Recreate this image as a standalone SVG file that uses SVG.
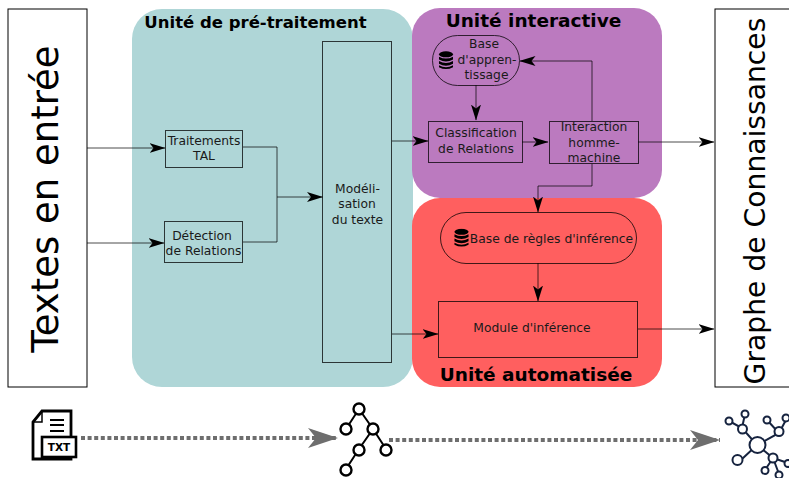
<svg xmlns="http://www.w3.org/2000/svg" width="789" height="478" viewBox="0 0 789 478">
<defs>
<style>
text{font-family:"DejaVu Sans",sans-serif;fill:#000}
.t{font-size:12.3px;text-anchor:middle;fill:#1a1a1a}
.h{font-size:18.500px;font-weight:bold;text-anchor:middle}
.b{fill:none;stroke:#000;stroke-width:1;stroke-opacity:.75}
.c{fill:none;stroke:#000;stroke-width:1;stroke-opacity:.7}
.d{fill:none;stroke:#6e6e6e;stroke-width:4;stroke-dasharray:4 2.6}
.i{fill:#fff;stroke:#000;stroke-width:2.4}
.n{fill:#fff;stroke:#16233f;stroke-width:2}
.l{fill:none;stroke:#16233f;stroke-width:2}
</style>
<marker id="a" viewBox="0 0 16 10" refX="15.500" refY="5" markerWidth="16" markerHeight="10" markerUnits="userSpaceOnUse" orient="auto"><path d="M0 0L16 5L0 10L4 5Z" fill="#000"/></marker>
<marker id="g" viewBox="0 0 30 20" refX="30" refY="10" markerWidth="30" markerHeight="20" markerUnits="userSpaceOnUse" orient="auto"><path d="M0 0L30 10L0 20L8 10Z" fill="#6e6e6e"/></marker>
<symbol id="db" viewBox="0 0 16 20" preserveAspectRatio="none"><g fill="#000"><ellipse cx="8" cy="3.500" rx="7.500" ry="3.200"/><path d="M.5 6Q8 10 15.500 6V9Q8 13 .5 9Z"/><path d="M.5 10.500Q8 14.500 15.500 10.500V13.500Q8 17.500 .5 13.500Z"/><path d="M.5 15Q8 19 15.500 15V17Q8 21 .5 17Z"/></g></symbol>
</defs>
<rect width="789" height="478" fill="#fff"/>
<g id="unite-pretraitement"><rect x="132" y="9" width="281" height="378" rx="30" fill="#afd6d7"/><text class="h" style="font-size:16.500px" x="255.500" y="28">Unité de pré-traitement</text></g>
<g id="unite-automatisee"><rect x="412" y="198" width="250" height="189" rx="28" fill="#ff5f5f"/><text class="h" x="536" y="381">Unité automatisée</text></g>
<g id="unite-interactive"><rect x="412" y="8" width="250" height="190" rx="28" fill="#bb7abf"/><text class="h" x="533.500" y="27">Unité interactive</text></g>
<g id="textes"><rect x="8" y="9" width="79" height="378" fill="#fff" stroke="#000"/><text transform="translate(58,199) rotate(-90)" font-size="37" text-anchor="middle">Textes en entrée</text></g>
<g id="graphe"><rect x="715" y="9" width="76" height="378" fill="#fff" stroke="#000"/><text transform="translate(765,201) rotate(-90)" font-size="28.200" text-anchor="middle">Graphe de Connaissances</text></g>
<g id="connectors">
<path class="c" d="M87 148H165" marker-end="url(#a)"/>
<path class="c" d="M87 243H164" marker-end="url(#a)"/>
<path class="c" d="M243 147H277V242H243M277 197H322.500" marker-end="url(#a)"/>
<path class="c" d="M392 141H428" marker-end="url(#a)"/>
<path class="c" d="M392 334H438" marker-end="url(#a)"/>
<path class="c" d="M476 85V120" marker-end="url(#a)"/>
<path class="c" d="M522 142H548" marker-end="url(#a)"/>
<path class="c" d="M592 121V61H520" marker-end="url(#a)"/>
<path class="c" d="M592 164V186H538V212" marker-end="url(#a)"/>
<path class="c" d="M538 263V301" marker-end="url(#a)"/>
<path class="c" d="M638 142H714" marker-end="url(#a)"/>
<path class="c" d="M638 329H714" marker-end="url(#a)"/>
<path class="d" d="M81 438H338" marker-end="url(#g)"/>
<path class="d" d="M389 440H720" marker-end="url(#g)"/>
</g>
<g id="traitements"><rect class="b" x="165.500" y="130.500" width="77" height="37"/><text class="t" x="204" y="145">Traitements</text><text class="t" x="204" y="160">TAL</text></g>
<g id="detection"><rect class="b" x="164.500" y="221.500" width="78" height="41"/><text class="t" x="202" y="240">Détection</text><text class="t" x="203.500" y="255">de Relations</text></g>
<g id="modelisation"><rect class="b" x="322.500" y="41.500" width="69" height="321"/><text class="t" x="357.500" y="193">Modéli-</text><text class="t" x="357" y="208">sation</text><text class="t" x="357.500" y="224">du texte</text></g>
<g id="base-apprentissage"><rect class="b" x="432.500" y="35.500" width="87" height="50" rx="25"/><use href="#db" x="438.500" y="51" width="15" height="19"/><text class="t" x="484" y="48">Base</text><text class="t" x="487" y="64">d'appren-</text><text class="t" x="486.500" y="79">tissage</text></g>
<g id="classification"><rect class="b" x="428.500" y="121.500" width="94" height="41"/><text class="t" x="476" y="137">Classification</text><text class="t" x="476" y="153">de Relations</text></g>
<g id="interaction"><rect class="b" x="549.500" y="121.500" width="89" height="42"/><text class="t" x="594" y="131">Interaction</text><text class="t" x="594" y="147">homme-</text><text class="t" x="594" y="162">machine</text></g>
<g id="base-regles"><rect class="b" x="440.500" y="212.500" width="196" height="51" rx="25.500"/><use href="#db" x="454" y="228.500" width="15" height="19"/><text class="t" x="551.500" y="243">Base de règles d'inférence</text></g>
<g id="module"><rect class="b" x="438.500" y="301.500" width="199" height="56"/><text class="t" x="532" y="332">Module d'inférence</text></g>
<g id="icone-txt" fill="none" stroke="#000">
<path d="M42 411H71V459H33V422Z" fill="#fff" stroke-width="2.800"/><path d="M33 422H42V411" stroke-width="1.500"/>
<path d="M50 420H64M50 425H64M50 431H64" stroke-width="2.200"/>
<rect x="42" y="437" width="34" height="20" fill="#fff" stroke-width="2.600"/>
<text x="59" y="451" font-size="10.500" font-weight="bold" text-anchor="middle" stroke="none">TXT</text>
</g>
<g id="icone-arbre">
<path class="l" style="stroke:#000" d="M359 409L346 429M359 409L373 429L359 449L346 469M373 429L386 449"/>
<circle class="i" cx="359" cy="409" r="5.500"/><circle class="i" cx="346" cy="429" r="5.500"/><circle class="i" cx="373" cy="429" r="5.500"/><circle class="i" cx="359" cy="450" r="5.500"/><circle class="i" cx="386" cy="450" r="5.500"/><circle class="i" cx="346" cy="470" r="5.500"/>
</g>
<g id="icone-graphe">
<path class="l" d="M757 445L742 459M757 445L742 428L729 421M742 428L745 414M757 445L779 433L767 420M779 433L787 418M757 445L773 458L765 470M773 458L779 474M773 458L788 463"/>
<circle class="n" cx="757.500" cy="445" r="8"/><circle class="n" cx="742.500" cy="429" r="4.500"/><circle class="n" cx="729" cy="421" r="3.500"/><circle class="n" cx="745" cy="414" r="3.500"/><circle class="n" cx="779" cy="431.500" r="4.500"/><circle class="n" cx="767" cy="420" r="3.500"/><circle class="n" cx="786" cy="418" r="3.500"/><circle class="n" cx="737.500" cy="460" r="5"/><circle class="n" cx="773" cy="458" r="4.500"/><circle class="n" cx="765" cy="470.500" r="3.500"/><circle class="n" cx="779" cy="475" r="3.500"/><circle class="n" cx="788" cy="463.500" r="3.500"/>
</g>
</svg>
